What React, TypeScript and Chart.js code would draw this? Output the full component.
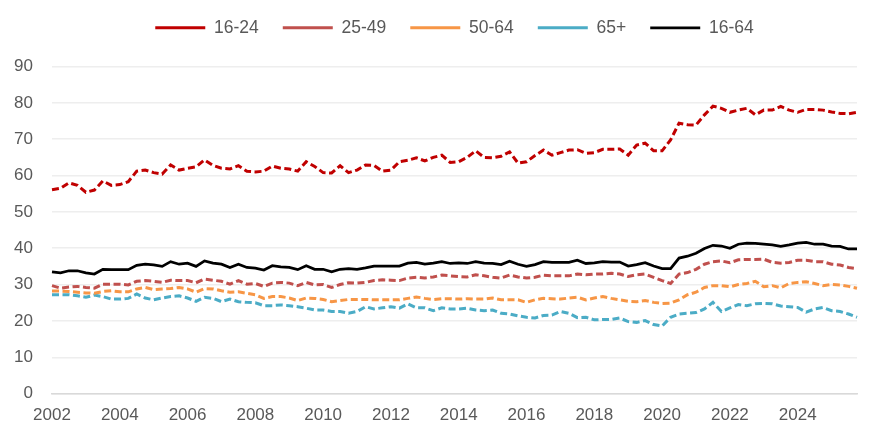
import { Chart, registerables } from "chart.js";
import React, { useEffect, useRef } from "react";

Chart.register(...registerables);

// quarterly series, 2002 Q1 to 2025 Q4
const years = [2002, 2003, 2004, 2005, 2006, 2007, 2008, 2009, 2010, 2011, 2012, 2013, 2014, 2015, 2016, 2017, 2018, 2019, 2020, 2021, 2022, 2023, 2024, 2025];
const quarters = ["Q1", "Q2", "Q3", "Q4"];
const categories = years.flatMap((y) => quarters.map((q) => `${y} ${q}`));
const tickYears = [2002, 2004, 2006, 2008, 2010, 2012, 2014, 2016, 2018, 2020, 2022, 2024];

const age16to24 = [
  56.1, 56.5, 58.0, 57.3, 55.4, 56.0, 58.5, 57.3, 57.5, 58.3, 61.2, 61.5, 60.8, 60.4, 62.9, 61.5,
  62.0, 62.4, 64.3, 62.8, 62.0, 61.8, 62.7, 61.2, 61.0, 61.2, 62.6, 62.0, 61.8, 61.2, 63.8, 62.5,
  60.8, 60.7, 62.7, 60.8, 61.5, 62.9, 62.8, 61.2, 61.5, 63.8, 64.2, 64.9, 64.0, 65.0, 65.6, 63.6,
  63.8, 65.0, 66.8, 65.0, 64.9, 65.3, 66.5, 63.4, 63.8, 65.5, 67.0, 65.6, 66.3, 67.0, 67.1, 66.1,
  66.3, 67.2, 67.2, 67.3, 65.6, 68.4, 68.9, 66.8, 66.8, 69.8, 74.4, 74.0, 73.9, 76.7, 79.1, 78.5,
  77.4, 78.0, 78.5, 76.7, 78.0, 78.0, 79.0, 78.0, 77.4, 78.2, 78.2, 78.0, 77.5, 77.1, 77.0, 77.4,
];

const age25to49 = [
  29.7, 29.0, 29.3, 29.5, 29.2, 29.0, 30.1, 30.1, 30.1, 29.9, 30.9, 31.1, 30.9, 30.6, 31.2, 31.1,
  31.1, 30.5, 31.5, 31.2, 30.9, 30.1, 31.1, 30.1, 30.3, 29.5, 30.4, 30.6, 30.4, 29.7, 30.6, 29.9,
  30.0, 29.2, 30.0, 30.5, 30.4, 30.6, 31.1, 31.3, 31.2, 31.1, 31.8, 32.0, 31.8, 32.1, 32.6, 32.4,
  32.2, 32.1, 32.7, 32.4, 32.0, 31.8, 32.6, 32.1, 31.8, 32.0, 32.6, 32.4, 32.4, 32.4, 32.9, 32.7,
  32.9, 32.9, 33.1, 32.9, 32.2, 32.7, 32.9, 32.0, 31.1, 30.3, 32.9, 33.3, 34.2, 35.6, 36.3, 36.5,
  36.0, 36.8, 36.9, 36.9, 37.0, 36.1, 35.9, 36.1, 36.7, 36.7, 36.3, 36.3, 35.6, 35.4, 34.7, 34.4,
];

const age50to64 = [
  28.2, 28.2, 28.1, 27.9, 27.7, 27.6, 28.1, 28.3, 28.0, 28.0, 28.8, 29.2, 28.6, 28.8, 28.9, 29.2,
  28.8, 27.9, 28.9, 28.8, 28.3, 27.9, 28.0, 27.6, 27.2, 26.2, 26.7, 26.7, 26.3, 25.6, 26.3, 26.2,
  25.9, 25.3, 25.6, 25.9, 25.9, 25.9, 25.8, 25.8, 25.8, 25.8, 26.2, 26.6, 26.2, 25.9, 26.1, 26.1,
  26.0, 26.1, 26.0, 26.0, 26.3, 25.8, 25.8, 25.8, 25.1, 25.8, 26.2, 26.1, 26.0, 26.3, 26.5, 25.8,
  26.3, 26.7, 26.2, 25.8, 25.4, 25.3, 25.6, 25.1, 24.8, 24.9, 25.8, 27.2, 27.9, 29.2, 29.7, 29.7,
  29.4, 30.0, 30.3, 30.9, 29.4, 29.7, 29.1, 30.3, 30.6, 30.8, 30.3, 29.7, 30.0, 29.9, 29.5, 29.0,
];

const age65plus = [
  27.2, 27.2, 27.2, 26.9, 26.5, 27.1, 26.7, 26.0, 26.0, 26.2, 27.4, 26.3, 25.8, 26.3, 26.7, 26.9,
  26.3, 25.4, 26.5, 26.2, 25.3, 26.0, 25.3, 25.1, 25.0, 24.2, 24.2, 24.4, 24.2, 23.9, 23.5, 23.0,
  23.0, 22.6, 22.6, 22.1, 22.6, 23.9, 23.3, 23.6, 23.9, 23.5, 24.7, 23.6, 23.6, 22.8, 23.6, 23.3,
  23.3, 23.5, 23.0, 22.8, 23.0, 22.1, 21.9, 21.4, 21.0, 20.8, 21.5, 21.6, 22.6, 22.1, 20.9, 21.0,
  20.3, 20.4, 20.4, 20.8, 19.8, 19.6, 20.1, 19.0, 18.6, 21.0, 21.9, 22.1, 22.3, 23.3, 25.1, 22.6,
  23.6, 24.5, 24.2, 24.7, 24.8, 24.7, 24.1, 23.9, 23.7, 22.4, 23.3, 23.7, 22.8, 22.6, 21.9, 21.0,
];

const age16to64 = [
  33.5, 33.2, 33.8, 33.8, 33.2, 32.9, 34.2, 34.1, 34.1, 34.1, 35.3, 35.6, 35.4, 35.0, 36.3, 35.6,
  35.9, 35.0, 36.5, 35.9, 35.6, 34.7, 35.6, 34.7, 34.5, 34.0, 35.2, 34.9, 34.7, 34.1, 35.2, 34.2,
  34.2, 33.5, 34.2, 34.4, 34.2, 34.6, 35.1, 35.1, 35.1, 35.1, 35.9, 36.1, 35.6, 35.9, 36.3, 35.8,
  36.0, 35.8, 36.3, 35.9, 35.8, 35.5, 36.4, 35.6, 35.0, 35.5, 36.3, 36.1, 36.1, 36.1, 36.7, 35.8,
  36.0, 36.3, 36.2, 36.2, 35.1, 35.5, 36.0, 35.1, 34.4, 34.4, 37.3, 37.8, 38.6, 39.9, 40.8, 40.6,
  40.0, 41.1, 41.4, 41.3, 41.1, 40.9, 40.5, 40.9, 41.4, 41.6, 41.1, 41.1, 40.6, 40.5, 39.8, 39.8,
];

const seriesNames = ["16-24", "25-49", "50-64", "65+", "16-64"];
const seriesColors = ["#C00000", "#C0504D", "#F79646", "#4BACC6", "#000000"];

const FONT = "'Liberation Sans', Arial, sans-serif";

// more room under the legend, and lift the legend itself a little
const legendTweak = {
  id: "legendTweak",
  beforeInit(chart: any) {
    const fit = chart.legend.fit;
    chart.legend.fit = function () {
      fit.call(this);
      this.height += 15;
    };
  },
  afterLayout(chart: any) {
    chart.legend.top -= 5;
    chart.legend.bottom -= 5;
  },
};

const App: React.FC = () => {
  const chartRef = useRef<HTMLCanvasElement>(null);

  useEffect(() => {
    document.body.style.margin = "0";
    if (!chartRef.current) return;
    const values = [age16to24, age25to49, age50to64, age65plus, age16to64];
    const chart = new Chart(chartRef.current, {
      type: "line",
      data: {
        labels: categories,
        datasets: seriesNames.map((name, i) => ({
          label: name,
          data: values[i],
          borderColor: seriesColors[i],
          backgroundColor: seriesColors[i],
          borderWidth: i === 4 ? 2.75 : 3,
          borderDash: i === 4 ? [] : [7, 3.5],
          pointRadius: 0,
          tension: 0,
        })),
      },
      options: {
        animation: false,
        responsive: true,
        maintainAspectRatio: false,
        layout: { padding: { top: 0, left: 0, right: 38, bottom: 0 } },
        plugins: {
          legend: {
            position: "top",
            fullSize: false,
            labels: {
              usePointStyle: true,
              pointStyle: "line",
              pointStyleWidth: 50,
              padding: 24,
              color: "#595959",
              font: { family: FONT, size: 17.5 },
            },
          },
          tooltip: { enabled: false },
        },
        scales: {
          x: {
            grid: { display: false, drawTicks: false },
            border: { color: "#D9D9D9", width: 1.5 },
            ticks: {
              autoSkip: false,
              maxRotation: 0,
              padding: 12,
              color: "#595959",
              font: { family: FONT, size: 17 },
              callback: (_v: any, idx: number) => {
                const year = Number(categories[idx].slice(0, 4));
                return categories[idx].endsWith("Q1") && tickYears.includes(year) ? String(year) : "";
              },
            },
          },
          y: {
            min: 0,
            max: 90,
            grid: { color: "#EEEEEE", lineWidth: 1.5, drawTicks: false },
            border: { display: false },
            afterFit: (scale: any) => {
              scale.width = 52;
            },
            ticks: {
              stepSize: 10,
              padding: 19,
              color: "#595959",
              font: { family: FONT, size: 17 },
            },
          },
        },
      },
      plugins: [legendTweak],
    });
    return () => chart.destroy();
  }, []);

  return (
    <div style={{ width: 895, height: 438, position: "relative", background: "#fff" }}>
      <canvas ref={chartRef}></canvas>
    </div>
  );
};

export default App;
